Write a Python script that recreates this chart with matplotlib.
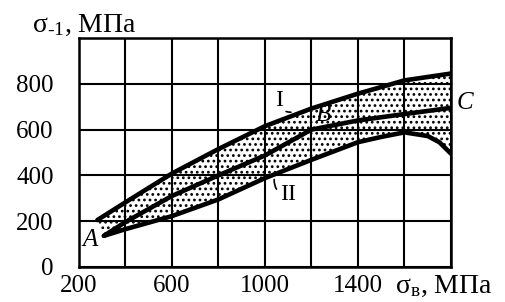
import matplotlib.pyplot as plt
import numpy as np

plt.rcParams['font.family'] = ['Liberation Serif', 'DejaVu Serif']
plt.rcParams['mathtext.fontset'] = 'custom'
plt.rcParams['mathtext.rm'] = 'Liberation Serif'
plt.rcParams['mathtext.it'] = 'Liberation Serif:italic'
plt.rcParams['hatch.linewidth'] = 1.2

# upper boundary of band (curve I)
sb_upper = [280, 400, 600, 800, 1000, 1200, 1400, 1600, 1800]
s1_upper = [205, 282, 408, 515, 615, 692, 757, 815, 845]

# middle line A-B-C
sb_mid = [308, 400, 600, 800, 1000, 1200, 1400, 1600, 1800]
s1_mid = [136, 196, 310, 400, 487, 600, 640, 668, 695]

# lower boundary (curve II)
sb_low = [308, 400, 600, 800, 1000, 1200, 1400, 1500, 1600, 1700, 1750, 1800]
s1_low = [136, 165, 222, 295, 388, 468, 545, 568, 588, 572, 545, 495]

x_ticks = [200, 400, 600, 800, 1000, 1200, 1400, 1600, 1800]
x_labels = ['200', '', '600', '', '1000', '', '1400', '', '']
y_ticks = [0, 200, 400, 600, 800, 1000]
y_labels = ['0', '200', '400', '600', '800', '']

fig = plt.figure(figsize=(5.05, 3.02), dpi=100)
ax = fig.add_axes([0.156, 0.116, 0.737, 0.758])

# dotted region between curves
poly_x = sb_upper + [1800] + sb_low[::-1]
poly_y = s1_upper + [s1_low[-1]] + s1_low[::-1]
ax.fill(poly_x, poly_y, facecolor='white', edgecolor='black', hatch='...',
        linewidth=0, zorder=1)

for xs, ys in [(sb_upper, s1_upper), (sb_mid, s1_mid), (sb_low, s1_low)]:
    ax.plot(xs, ys, color='black', lw=3.3, solid_capstyle='round',
            solid_joinstyle='round', zorder=3)

ax.set_xlim(200, 1800)
ax.set_ylim(0, 1000)
ax.set_xticks(x_ticks)
ax.set_xticklabels(x_labels)
ax.set_yticks(y_ticks)
ax.set_yticklabels(y_labels)
ax.tick_params(length=0, labelsize=18, colors='black')
ax.tick_params(axis='x', pad=6)
ax.tick_params(axis='y', pad=18)
ax.grid(True, color='black', lw=1.5, zorder=2)
ax.set_axisbelow(False)
for sp in ax.spines.values():
    sp.set_linewidth(1.8)

# point labels
ax.text(250, 118, 'A', fontsize=18, style='italic', ha='center', va='center')
ax.text(1250, 662, 'B', fontsize=18, style='italic', ha='center', va='center')
ax.text(1858, 717, 'C', fontsize=18, style='italic', ha='center', va='center',
        clip_on=False)
ax.annotate('I', xy=(1112, 676), xytext=(1062, 728), fontsize=17,
            ha='center', va='center',
            arrowprops=dict(arrowstyle='-', lw=1.2, color='black',
                            connectionstyle='arc3,rad=0.5', shrinkA=0, shrinkB=0))
ax.annotate('II', xy=(1040, 382), xytext=(1100, 318), fontsize=17,
            ha='center', va='center',
            arrowprops=dict(arrowstyle='-', lw=1.2, color='black',
                            connectionstyle='arc3,rad=-0.5', shrinkA=1, shrinkB=0))

# axis titles
fig.text(0.063, 0.894, r'$\mathrm{σ}_{\text{-}1}$, МПа', fontsize=20, ha='left',
         va='baseline')
fig.text(0.782, 0.03, r'$\mathrm{σ}_\mathrm{в}$, МПа', fontsize=20, ha='left',
         va='baseline')

fig.savefig('out.png', dpi=100)
